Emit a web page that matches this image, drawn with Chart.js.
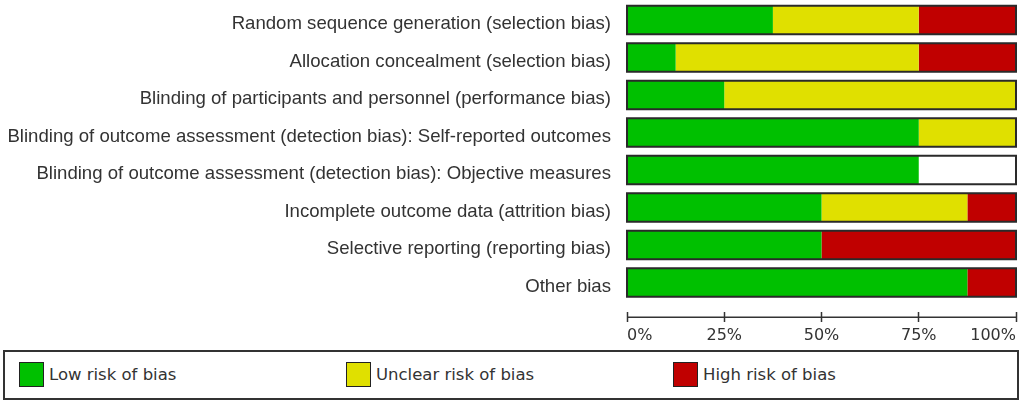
<!DOCTYPE html>
<html>
<head>
<meta charset="utf-8">
<script src="https://cdn.jsdelivr.net/npm/chart.js@4.4.1/dist/chart.umd.min.js"></script>
<style>
  html, body { margin: 0; padding: 0; background: #fff; }
  #wrap { position: relative; width: 1023px; height: 403px; overflow: hidden; }
  #chartBox { position: absolute; left: 0; top: 0; width: 1023px; height: 345px; }
  #legend { position: absolute; left: 3px; top: 350px; width: 1012px; height: 46px;
            border: 2px solid #333; box-sizing: content-box; background: #fff;
            font-family: "DejaVu Sans", sans-serif; font-size: 16.5px; color: #333; }
  .item { position: absolute; top: 10px; height: 25px; display: flex; align-items: center; }
  .sw { width: 23px; height: 23px; border: 1.5px solid #222; margin-right: 5px; }
</style>
</head>
<body>
<div id="wrap">
  <div id="chartBox"><canvas id="c"></canvas></div>
  <div id="legend"></div>
</div>
<script>
const categories = [
  "Random sequence generation (selection bias)",
  "Allocation concealment (selection bias)",
  "Blinding of participants and personnel (performance bias)",
  "Blinding of outcome assessment (detection bias): Self-reported outcomes",
  "Blinding of outcome assessment (detection bias): Objective measures",
  "Incomplete outcome data (attrition bias)",
  "Selective reporting (reporting bias)",
  "Other bias"
];
const lowRisk     = [37.5, 12.5, 25, 75, 75, 50, 50, 87.5];
const unclearRisk = [37.5, 62.5, 75, 25, 0, 37.5, 0, 0];
const highRisk    = [25, 25, 0, 0, 0, 12.5, 50, 12.5];
const seriesNames = ["Low risk of bias", "Unclear risk of bias", "High risk of bias"];
const seriesColors = ["#00c000", "#e0e000", "#c00000"];
const tickValues = [0, 25, 50, 75, 100];

const outlinePlugin = {
  id: 'outline',
  afterDatasetsDraw(chart) {
    const ctx = chart.ctx;
    const xs = chart.scales.x;
    const meta = chart.getDatasetMeta(0);
    const x0 = xs.getPixelForValue(0), x1 = xs.getPixelForValue(100);
    ctx.save();
    ctx.strokeStyle = '#2a2a2a';
    ctx.lineWidth = 2;
    meta.data.forEach(el => {
      const h = el.height;
      ctx.strokeRect(x0, el.y - h / 2, x1 - x0, h);
    });
    const ay = chart.chartArea.bottom + 16;
    ctx.lineWidth = 1.5;
    ctx.strokeStyle = '#333';
    ctx.beginPath();
    ctx.moveTo(x0, ay);
    ctx.lineTo(x1, ay);
    ctx.stroke();
    ctx.restore();
  }
};

new Chart(document.getElementById('c'), {
  type: 'bar',
  data: {
    labels: categories,
    datasets: [
      { label: seriesNames[0], data: lowRisk, backgroundColor: seriesColors[0] },
      { label: seriesNames[1], data: unclearRisk, backgroundColor: seriesColors[1] },
      { label: seriesNames[2], data: highRisk, backgroundColor: seriesColors[2] }
    ]
  },
  options: {
    indexAxis: 'y',
    responsive: true,
    maintainAspectRatio: false,
    animation: false,
    layout: { autoPadding: false, padding: { top: 1.25, right: 7, left: 0, bottom: 0 } },
    datasets: { bar: { barPercentage: 0.76, categoryPercentage: 1, borderWidth: 0 } },
    plugins: { legend: { display: false }, tooltip: { enabled: false } },
    scales: {
      x: {
        stacked: true, min: 0, max: 100,
        afterBuildTicks(scale) { scale.ticks = tickValues.map(v => ({ value: v })); },
        afterFit(scale) { scale.height = 43.75; scale.paddingLeft = 0; scale.paddingRight = 0; },
        border: { display: false },
        grid: {
          drawOnChartArea: false, drawTicks: true, tickLength: 21,
          tickColor: '#333', tickWidth: 1.5,
          tickBorderDash: [10, 11], tickBorderDashOffset: 10
        },
        ticks: {
          align: 'inner', padding: 4, color: '#333',
          font: { family: 'DejaVu Sans', size: 16 },
          callback: v => v + '%'
        }
      },
      y: {
        stacked: true,
        afterFit(scale) { scale.width = 627; scale.paddingTop = 0; scale.paddingBottom = 0; },
        border: { display: false },
        grid: { display: false },
        ticks: {
          padding: 8, labelOffset: 4, color: '#333',
          font: { family: 'Liberation Sans', size: 18.6 }
        }
      }
    }
  },
  plugins: [outlinePlugin]
});

const legend = document.getElementById('legend');
const legendX = [14, 341, 668];
seriesNames.forEach((n, i) => {
  const d = document.createElement('div');
  d.className = 'item';
  d.style.left = legendX[i] + 'px';
  d.innerHTML = '<div class="sw" style="background:' + seriesColors[i] + '"></div><span>' + n + '</span>';
  legend.appendChild(d);
});
</script>
</body>
</html>
